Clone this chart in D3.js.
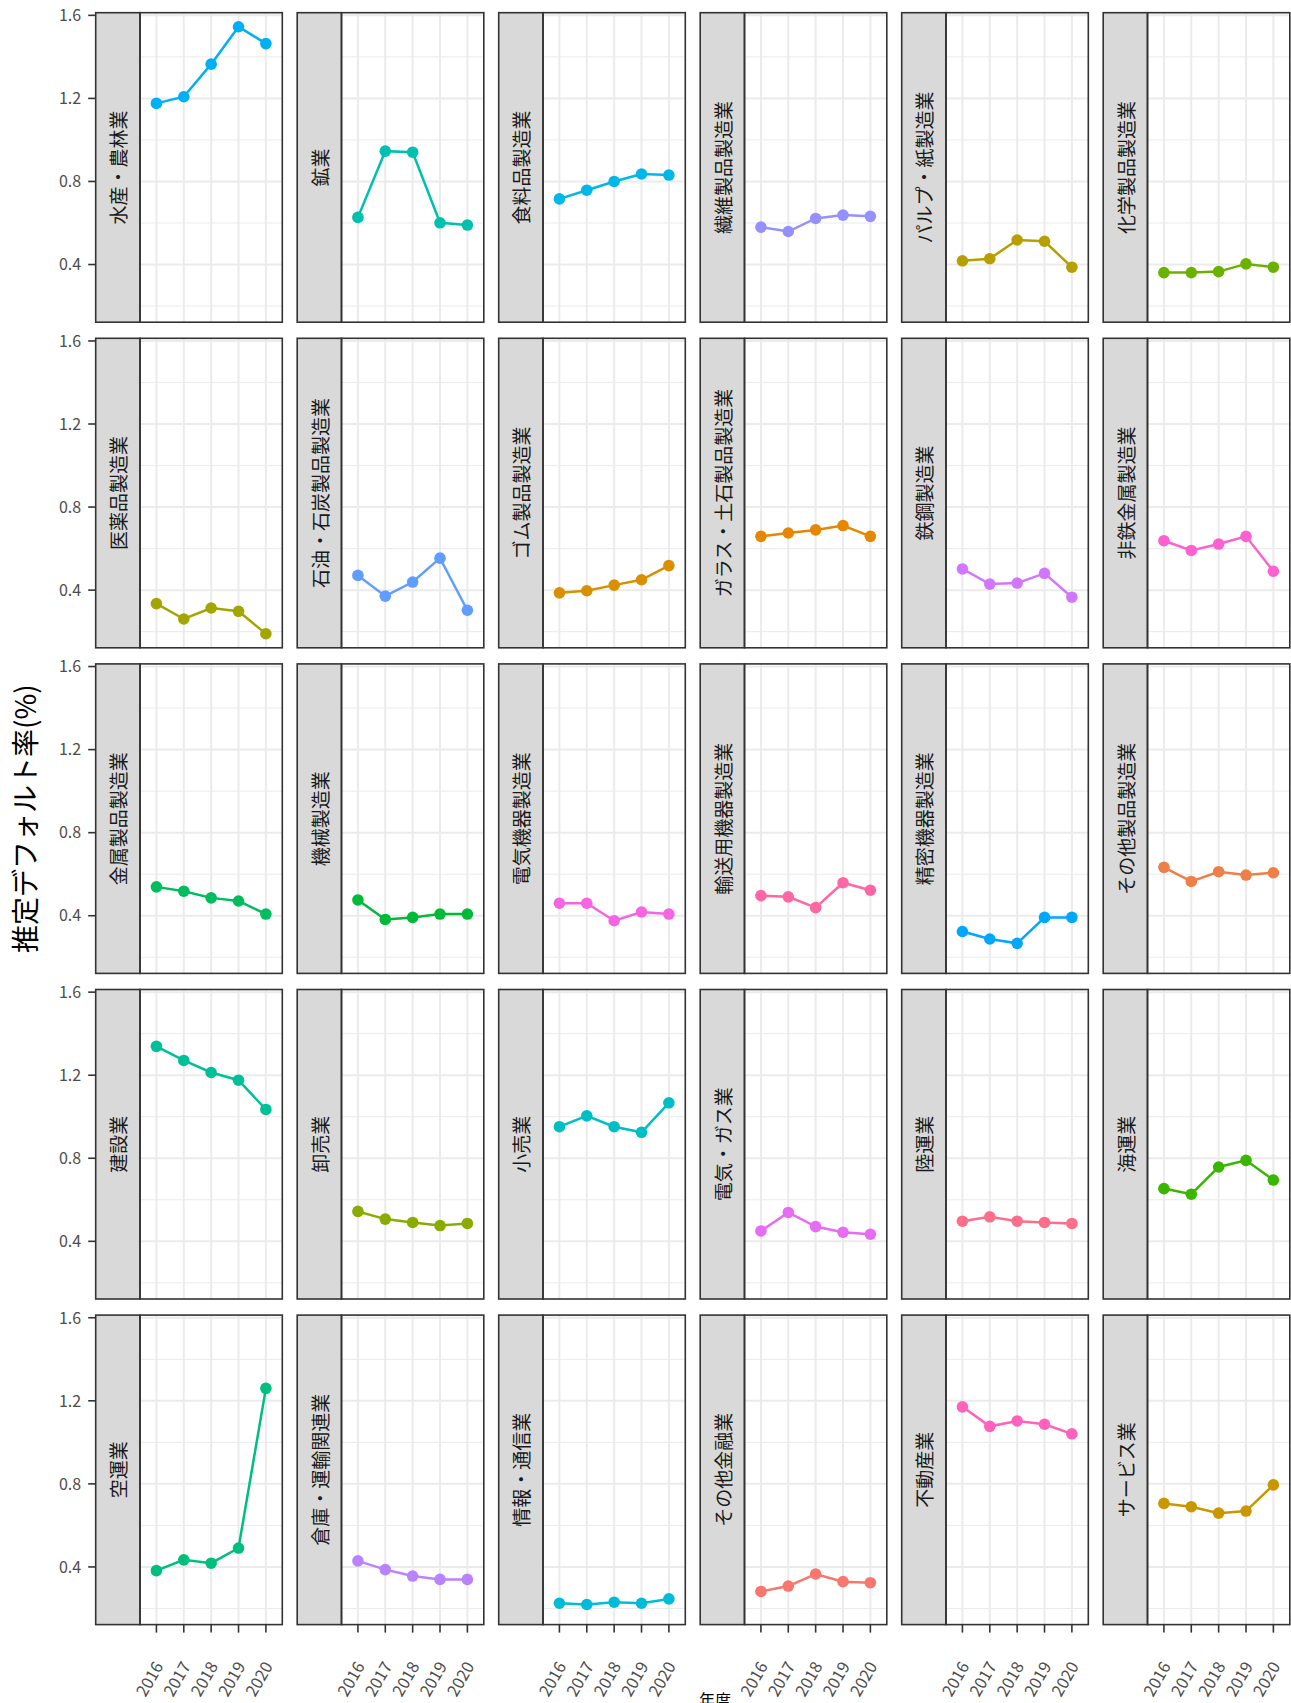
<!DOCTYPE html>
<html>
<head>
<meta charset="utf-8">
<script src="https://cdn.jsdelivr.net/npm/d3@7"></script>
<style>
  body { margin: 0; background: #fff; }
  svg { display: block; font-family: "Noto Sans CJK JP", "Noto Sans", sans-serif; }
</style>
</head>
<body>
<div id="chart"></div>
<script>
// industries in facet order
var industries = [
  "水産・農林業", "鉱業", "食料品製造業", "繊維製品製造業", "パルプ・紙製造業", "化学製品製造業",
  "医薬品製造業", "石油・石炭製品製造業", "ゴム製品製造業", "ガラス・土石製品製造業", "鉄鋼製造業", "非鉄金属製造業",
  "金属製品製造業", "機械製造業", "電気機器製造業", "輸送用機器製造業", "精密機器製造業", "その他製品製造業",
  "建設業", "卸売業", "小売業", "電気・ガス業", "陸運業", "海運業",
  "空運業", "倉庫・運輸関連業", "情報・通信業", "その他金融業", "不動産業", "サービス業"
];

var years = ["2016", "2017", "2018", "2019", "2020"];

// estimated default rate (%) per industry, 2016..2020
var rate = [
  [1.176, 1.208, 1.365, 1.545, 1.464],
  [0.627, 0.946, 0.941, 0.601, 0.590],
  [0.716, 0.758, 0.800, 0.836, 0.831],
  [0.580, 0.559, 0.622, 0.638, 0.632],
  [0.418, 0.428, 0.518, 0.512, 0.387],
  [0.361, 0.361, 0.366, 0.403, 0.387],
  [0.335, 0.261, 0.314, 0.298, 0.190],
  [0.471, 0.371, 0.439, 0.554, 0.303],
  [0.387, 0.397, 0.424, 0.450, 0.518],
  [0.659, 0.675, 0.690, 0.711, 0.659],
  [0.502, 0.429, 0.434, 0.481, 0.366],
  [0.638, 0.591, 0.622, 0.659, 0.491],
  [0.539, 0.518, 0.486, 0.471, 0.408],
  [0.476, 0.382, 0.392, 0.408, 0.408],
  [0.460, 0.460, 0.376, 0.418, 0.408],
  [0.497, 0.491, 0.439, 0.559, 0.523],
  [0.324, 0.288, 0.267, 0.392, 0.392],
  [0.633, 0.565, 0.612, 0.596, 0.607],
  [1.339, 1.271, 1.213, 1.176, 1.035],
  [0.544, 0.507, 0.491, 0.476, 0.486],
  [0.952, 1.004, 0.952, 0.925, 1.067],
  [0.450, 0.539, 0.471, 0.444, 0.434],
  [0.497, 0.518, 0.497, 0.491, 0.486],
  [0.654, 0.627, 0.758, 0.790, 0.695],
  [0.382, 0.434, 0.418, 0.491, 1.260],
  [0.429, 0.387, 0.356, 0.340, 0.340],
  [0.225, 0.219, 0.230, 0.225, 0.246],
  [0.282, 0.308, 0.366, 0.329, 0.324],
  [1.171, 1.077, 1.103, 1.087, 1.041],
  [0.706, 0.690, 0.659, 0.669, 0.795]
];

// order the colour factor levels were sorted in (Shift_JIS order)
var colourOrder = [
  "その他金融業", "その他製品製造業", "ガラス・土石製品製造業", "ゴム製品製造業", "サービス業", "パルプ・紙製造業",
  "医薬品製造業", "卸売業", "化学製品製造業", "海運業", "機械製造業", "金属製品製造業",
  "空運業", "建設業", "鉱業", "小売業", "情報・通信業", "食料品製造業",
  "水産・農林業", "精密機器製造業", "石油・石炭製品製造業", "繊維製品製造業", "倉庫・運輸関連業", "鉄鋼製造業",
  "電気・ガス業", "電気機器製造業", "非鉄金属製造業", "不動産業", "輸送用機器製造業", "陸運業"
];

var yMajor = [0.4, 0.8, 1.2, 1.6];
var yMinor = [0.2, 0.6, 1.0, 1.4];

// ggplot-like hue palette (polar LUV -> sRGB)
function hclHex(h, c, l) {
  var hr = h * Math.PI / 180;
  var U = c * Math.cos(hr), V = c * Math.sin(hr);
  var Y = 100 * (l > 7.999592 ? Math.pow((l + 16) / 116, 3) : l / 903.3);
  var u = U / (13 * l) + 0.1978398, v = V / (13 * l) + 0.4683363;
  var X = 9 * Y * u / (4 * v);
  var Z = -X / 3 - 5 * Y + 3 * Y / v;
  function g(t) { return t > 0.00304 ? 1.055 * Math.pow(t, 1 / 2.4) - 0.055 : 12.92 * t; }
  var rgb = [
    g((3.240479 * X - 1.537150 * Y - 0.498535 * Z) / 100),
    g((-0.969256 * X + 1.875992 * Y + 0.041556 * Z) / 100),
    g((0.055648 * X - 0.204043 * Y + 1.057311 * Z) / 100)
  ].map(function (t) { return Math.round(255 * Math.max(0, Math.min(1, t))); });
  return d3.rgb(rgb[0], rgb[1], rgb[2]).formatHex();
}
var palette = colourOrder.map(function (d, i) { return hclHex(15 + 360 * i / colourOrder.length, 100, 65); });
var colour = d3.scaleOrdinal().domain(colourOrder).range(palette);

var W = 1291, H = 1703;
var colLeft0 = 95.7, colPitch = 201.5, stripW = 44.3, plotW = 142.3;
var rowTop0 = 12.7, rowPitch = 325.6, panelH = 309.5;
var nCol = 6, nRow = 5;

var svg = d3.select("#chart").append("svg").attr("width", W).attr("height", H);

var all = d3.merge(rate);
var lo = d3.min(all), hi = d3.max(all), pad = (hi - lo) * 0.05;

industries.forEach(function (name, i) {
  var c = i % nCol, r = Math.floor(i / nCol);
  var sx = colLeft0 + c * colPitch, top = rowTop0 + r * rowPitch;
  var px = sx + stripW, bottom = top + panelH;

  var x = d3.scalePoint().domain(years).range([px, px + plotW]).padding(0.6);
  var y = d3.scaleLinear().domain([lo - pad, hi + pad]).range([bottom, top]);

  var g = svg.append("g");
  g.append("rect").attr("x", px).attr("y", top).attr("width", plotW).attr("height", panelH).attr("fill", "#fff");

  g.selectAll(".minor").data(yMinor).enter().append("line")
    .attr("x1", px).attr("x2", px + plotW).attr("y1", y).attr("y2", y)
    .attr("stroke", "#EBEBEB").attr("stroke-width", 1);
  g.selectAll(".major").data(yMajor).enter().append("line")
    .attr("x1", px).attr("x2", px + plotW).attr("y1", y).attr("y2", y)
    .attr("stroke", "#EBEBEB").attr("stroke-width", 2);
  g.selectAll(".vgrid").data(years).enter().append("line")
    .attr("x1", x).attr("x2", x).attr("y1", top).attr("y2", bottom)
    .attr("stroke", "#EBEBEB").attr("stroke-width", 2);

  var pts = years.map(function (yr, k) { return [yr, rate[i][k]]; });
  var col = colour(name);
  g.append("path").datum(pts)
    .attr("d", d3.line().x(function (d) { return x(d[0]); }).y(function (d) { return y(d[1]); }))
    .attr("fill", "none").attr("stroke", col).attr("stroke-width", 2.5);
  g.selectAll("circle").data(pts).enter().append("circle")
    .attr("cx", function (d) { return x(d[0]); }).attr("cy", function (d) { return y(d[1]); })
    .attr("r", 5.8).attr("fill", col);

  // strip on the left
  g.append("rect").attr("x", sx).attr("y", top).attr("width", stripW).attr("height", panelH)
    .attr("fill", "#D9D9D9").attr("stroke", "#333333").attr("stroke-width", 1.6);
  g.append("text")
    .attr("transform", "translate(" + (sx + stripW / 2) + "," + (top + panelH / 2) + ") rotate(-90)")
    .attr("text-anchor", "middle").attr("dominant-baseline", "central")
    .attr("font-size", 19).attr("fill", "#1A1A1A").text(name);

  g.append("rect").attr("x", px).attr("y", top).attr("width", plotW).attr("height", panelH)
    .attr("fill", "none").attr("stroke", "#333333").attr("stroke-width", 1.6);

  if (c === 0) {
    g.selectAll(".ytick").data(yMajor).enter().append("line")
      .attr("x1", sx - 7.5).attr("x2", sx).attr("y1", y).attr("y2", y)
      .attr("stroke", "#333333").attr("stroke-width", 1.6);
    g.selectAll(".ylab").data(yMajor).enter().append("text")
      .attr("x", sx - 14.5).attr("y", y).attr("dy", "0.36em")
      .attr("text-anchor", "end").attr("font-size", 16).attr("fill", "#4D4D4D")
      .text(function (d) { return d.toFixed(1); });
  }
  if (r === nRow - 1) {
    g.selectAll(".xtick").data(years).enter().append("line")
      .attr("x1", x).attr("x2", x).attr("y1", bottom).attr("y2", bottom + 8)
      .attr("stroke", "#333333").attr("stroke-width", 1.6);
    g.selectAll(".xlab").data(years).enter().append("text")
      .attr("transform", function (d) { return "translate(" + (x(d) + 7.5) + "," + (bottom + 41.5) + ") rotate(-60)"; })
      .attr("text-anchor", "end").attr("font-size", 16.5).attr("fill", "#4D4D4D")
      .text(function (d) { return d; });
  }
});

svg.append("text")
  .attr("transform", "translate(" + 36 + "," + (rowTop0 + (rowPitch * (nRow - 1) + panelH) / 2) + ") rotate(-90)")
  .attr("text-anchor", "middle").attr("font-size", 28).attr("fill", "#000")
  .text("推定デフォルト率(%)");

svg.append("text")
  .attr("x", 715).attr("y", 1706).attr("text-anchor", "middle")
  .attr("font-size", 16).attr("fill", "#000").text("年度");
</script>
</body>
</html>
